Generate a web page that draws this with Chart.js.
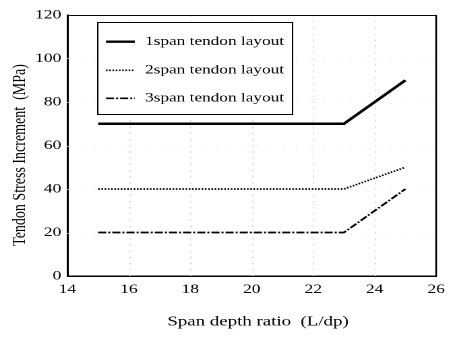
<!DOCTYPE html>
<html><head><meta charset="utf-8">
<script src="https://cdn.jsdelivr.net/npm/chart.js@4/dist/chart.umd.min.js"></script>
<style>
html,body{margin:0;padding:0;background:#fff;overflow:hidden;}
#wrap{width:336px;height:337px;transform:scaleX(1.3482);transform-origin:0 0;}
canvas{display:block;}
</style></head><body>
<div id="wrap"><canvas id="c" width="336" height="337"></canvas></div>
<script>
const spanRatio = [15, 23, 25];
const stress1span = [70, 70, 90];
const stress2span = [40, 40, 50];
const stress3span = [20, 20, 40];
const seriesLabels = ['1span tendon layout', '2span tendon layout', '3span tendon layout'];
const xTickValues = [14, 16, 18, 20, 22, 24, 26];
const yTickValues = [0, 20, 40, 60, 80, 100, 120];
const xTitle = 'Span depth ratio  (L/dp)';
const yTitle = 'Tendon Stress Increment  (MPa)';

const FONT = '"Liberation Serif", "Times New Roman", serif';
const toPts = ys => spanRatio.map((x, i) => ({x: x, y: ys[i]}));

const gridPlugin = {
  id: 'gridPlugin',
  beforeDatasetsDraw(chart) {
    const {ctx, chartArea: a, scales: {x, y}} = chart;
    ctx.save();
    ctx.strokeStyle = '#c4c4c4';
    ctx.lineWidth = 0.8;
    ctx.setLineDash([1.2, 5]);
    xTickValues.slice(1, -1).forEach(v => {
      const px = Math.round(x.getPixelForValue(v)) + 0.5;
      ctx.beginPath(); ctx.moveTo(px, a.top); ctx.lineTo(px, a.bottom); ctx.stroke();
    });
    ctx.strokeStyle = '#e2e2e2';
    ctx.setLineDash([1, 9]);
    yTickValues.slice(1, -1).forEach(v => {
      const py = Math.round(y.getPixelForValue(v)) + 0.5;
      ctx.beginPath(); ctx.moveTo(a.left, py); ctx.lineTo(a.right, py); ctx.stroke();
    });
    ctx.setLineDash([]);
    ctx.strokeStyle = '#000';
    ctx.lineWidth = 1;
    ctx.beginPath(); ctx.moveTo(a.left, a.top + 0.5); ctx.lineTo(a.right, a.top + 0.5); ctx.stroke();
    ctx.lineWidth = 1.3;
    ctx.beginPath(); ctx.moveTo(a.right, a.top); ctx.lineTo(a.right, a.bottom); ctx.stroke();
    ctx.restore();
  }
};

const titlePlugin = {
  id: 'axisTitles',
  afterDraw(chart) {
    const {ctx} = chart;
    ctx.save();
    ctx.fillStyle = '#000';
    ctx.font = '14px ' + FONT;
    ctx.textAlign = 'center';
    ctx.textBaseline = 'middle';
    ctx.fillText(xTitle, 191.4, 322);
    ctx.translate(14.8, 155);
    ctx.rotate(-Math.PI / 2);
    ctx.fillText(yTitle, 0, 0);
    ctx.restore();
  }
};

const legendPlugin = {
  id: 'boxLegend',
  afterDatasetsDraw(chart) {
    const {ctx} = chart;
    const bx = 72, by = 22, bw = 144.5, bh = 92;
    ctx.save();
    ctx.fillStyle = '#fff';
    ctx.fillRect(bx, by, bw, bh);
    ctx.strokeStyle = '#000';
    ctx.lineWidth = 1;
    ctx.strokeRect(bx + 0.5, by + 0.5, bw, bh);
    const rows = [41.7, 70.3, 98.3];
    chart.data.datasets.forEach((ds, i) => {
      const yy = rows[i];
      ctx.strokeStyle = ds.borderColor;
      ctx.lineWidth = ds.borderWidth;
      ctx.setLineDash(ds.borderDash || []);
      ctx.beginPath(); ctx.moveTo(78.6, yy); ctx.lineTo(100, yy); ctx.stroke();
      ctx.setLineDash([]);
      ctx.fillStyle = '#000';
      ctx.font = '12.8px ' + FONT;
      ctx.textBaseline = 'middle';
      ctx.textAlign = 'left';
      ctx.fillText(ds.label, 107.6, yy);
    });
    ctx.restore();
  }
};

new Chart(document.getElementById('c'), {
  type: 'line',
  data: {
    datasets: [
      {label: seriesLabels[0], data: toPts(stress1span), borderColor: '#000', borderWidth: 2.4, borderDash: [], pointRadius: 0, fill: false, tension: 0},
      {label: seriesLabels[1], data: toPts(stress2span), borderColor: '#000', borderWidth: 1.7, borderDash: [1.2, 1.2], pointRadius: 0, fill: false, tension: 0},
      {label: seriesLabels[2], data: toPts(stress3span), borderColor: '#000', borderWidth: 1.7, borderDash: [6, 1.5, 1.5, 1.5], pointRadius: 0, fill: false, tension: 0}
    ]
  },
  options: {
    responsive: false,
    animation: false,
    devicePixelRatio: 2,
    events: [],
    layout: {padding: {top: 15, right: 9.6, bottom: 0, left: 0}},
    plugins: {legend: {display: false}, tooltip: {enabled: false}},
    scales: {
      x: {
        type: 'linear', min: 14, max: 26,
        afterBuildTicks: s => { s.ticks = xTickValues.map(v => ({value: v})); },
        ticks: {color: '#000', font: {family: FONT, size: 13}, padding: 6, maxRotation: 0},
        grid: {display: false, drawTicks: false},
        border: {display: true, color: '#000', width: 1.5},
        afterFit: s => { s.height = 61; }
      },
      y: {
        type: 'linear', min: 0, max: 120,
        afterBuildTicks: s => { s.ticks = yTickValues.map(v => ({value: v})); },
        ticks: {color: '#000', font: {family: FONT, size: 13}, padding: 4.5},
        grid: {display: false, drawTicks: false},
        border: {display: true, color: '#000', width: 1.5},
        afterFit: s => { s.width = 50; }
      }
    }
  },
  plugins: [gridPlugin, legendPlugin, titlePlugin]
});
</script>
</body></html>
